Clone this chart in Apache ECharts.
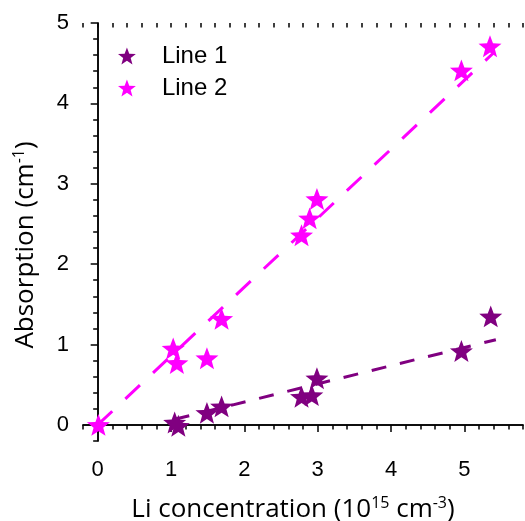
<!DOCTYPE html>
<html>
<head>
<meta charset="utf-8">
<script src="https://cdn.jsdelivr.net/npm/echarts@6/dist/echarts.min.js"></script>
<style>
  html, body { margin: 0; padding: 0; background: #fff; }
  #chart { width: 525px; height: 521px; }
</style>
</head>
<body>
<div id="chart"></div>
<script>
// tick labels
const xTicks = [0, 1, 2, 3, 4, 5]
const yTicks = [0, 1, 2, 3, 4, 5]

// Line 1 (purple)
const line1X = [1.05, 1.1, 1.49, 1.69, 2.78, 2.92, 2.99, 4.96, 5.36]
const line1Y = [0.03, -0.01, 0.15, 0.23, 0.35, 0.37, 0.58, 0.92, 1.35]

// Line 2 (magenta)
const line2X = [0.01, 1.03, 1.08, 1.49, 1.69, 2.78, 2.89, 2.99, 4.96, 5.35]
const line2Y = [0.0, 0.95, 0.77, 0.83, 1.32, 2.36, 2.57, 2.81, 4.41, 4.71]

// dashed fit lines, end points
const fit1X = [1.05, 5.43]
const fit1Y = [0.07, 1.06]
const fit2X = [0.0, 5.4]
const fit2Y = [0.0, 4.63]

const purple = '#800080'
const magenta = '#ff00ff'
const star = 'path://M50 0L62.34 33.01L97.55 34.55L69.97 56.49L79.39 90.45L50 71L20.61 90.45L30.03 56.49L2.45 34.55L37.66 33.01Z'

const pairs = (xs, ys) => xs.map((x, i) => [x, ys[i]])

const black = { color: '#000', width: 1.5 }
const tickFont = { fontFamily: 'Liberation Sans', fontSize: 22, color: '#000' }
const nameFont = (padding) => ({
  fontFamily: 'Open Sans',
  fontSize: 26,
  color: '#000',
  padding: padding,
  rich: {
    sup: { fontFamily: 'Open Sans', fontSize: 16, color: '#000', padding: [0, 0, 14, 0] }
  }
})

const chart = echarts.init(document.getElementById('chart'))

chart.setOption({
  animation: false,
  grid: { left: 83, right: 2, top: 23, bottom: 80, outerBoundsMode: 'none' },
  legend: {
    orient: 'vertical',
    left: 113,
    top: 39,
    itemWidth: 60,
    itemHeight: 17,
    itemGap: 8,
    symbolKeepAspect: true,
    data: [
      { name: 'Line 1', icon: star },
      { name: 'Line 2', icon: star }
    ],
    textStyle: { fontFamily: 'Liberation Sans', fontSize: 24, color: '#000', lineHeight: 24 }
  },
  xAxis: [
    {
      type: 'value', position: 'bottom', min: -0.2, max: 5.8,
      axisLine: { show: true, lineStyle: black },
      axisTick: { customValues: xTicks, length: 7, lineStyle: black },
      axisLabel: Object.assign({ customValues: xTicks, margin: 18 }, tickFont),
      splitLine: { show: false },
      name: 'Li concentration (10{sup|15} cm{sup|-3})',
      nameLocation: 'middle',
      nameGap: 54,
      nameTextStyle: nameFont([0, 20, 0, 0])
    },
    {
      type: 'value', position: 'bottom', min: -0.2, max: 5.8, interval: 0.2,
      axisLine: { show: false },
      axisTick: { length: 4.5, lineStyle: black },
      axisLabel: { show: false },
      splitLine: { show: false }
    },
    {
      type: 'value', position: 'top', min: -0.2, max: 5.8,
      axisLine: { show: true, lineStyle: black },
      axisTick: { inside: true, customValues: xTicks, length: 7, lineStyle: black },
      axisLabel: { show: false },
      splitLine: { show: false }
    },
    {
      type: 'value', position: 'top', min: -0.2, max: 5.8, interval: 0.2,
      axisLine: { show: false },
      axisTick: { inside: true, length: 4.5, lineStyle: black },
      axisLabel: { show: false },
      splitLine: { show: false }
    }
  ],
  yAxis: [
    {
      type: 'value', position: 'left', min: -0.2, max: 5,
      axisLine: { show: true, lineStyle: black },
      axisTick: { customValues: yTicks, length: 7, lineStyle: black },
      axisLabel: Object.assign({ customValues: yTicks, margin: 14 }, tickFont),
      splitLine: { show: false },
      name: 'Absorption (cm{sup|-1})',
      nameLocation: 'middle',
      nameGap: 42,
      nameTextStyle: nameFont([0, 26, 0, 0])
    },
    {
      type: 'value', position: 'left', min: -0.2, max: 5, interval: 0.2,
      axisLine: { show: false },
      axisTick: { length: 4.5, lineStyle: black },
      axisLabel: { show: false },
      splitLine: { show: false }
    },
    {
      type: 'value', position: 'right', min: -0.2, max: 5,
      axisLine: { show: true, lineStyle: black },
      axisTick: { show: false },
      axisLabel: { show: false },
      splitLine: { show: false }
    }
  ],
  series: [
    {
      name: 'Fit 1',
      type: 'line',
      data: pairs(fit1X, fit1Y),
      symbol: 'none',
      silent: true,
      z: 2,
      lineStyle: { color: purple, width: 3, type: [15, 14] }
    },
    {
      name: 'Fit 2',
      type: 'line',
      data: pairs(fit2X, fit2Y),
      symbol: 'none',
      silent: true,
      z: 2,
      lineStyle: { color: magenta, width: 3, type: [20, 18] }
    },
    {
      name: 'Line 1',
      type: 'scatter',
      data: pairs(line1X, line1Y),
      symbol: star,
      symbolSize: 23,
      symbolKeepAspect: true,
      z: 3,
      itemStyle: { color: purple, opacity: 1 }
    },
    {
      name: 'Line 2',
      type: 'scatter',
      data: pairs(line2X, line2Y),
      symbol: star,
      symbolSize: 23,
      symbolKeepAspect: true,
      z: 3,
      itemStyle: { color: magenta, opacity: 1 }
    }
  ]
})
</script>
</body>
</html>
